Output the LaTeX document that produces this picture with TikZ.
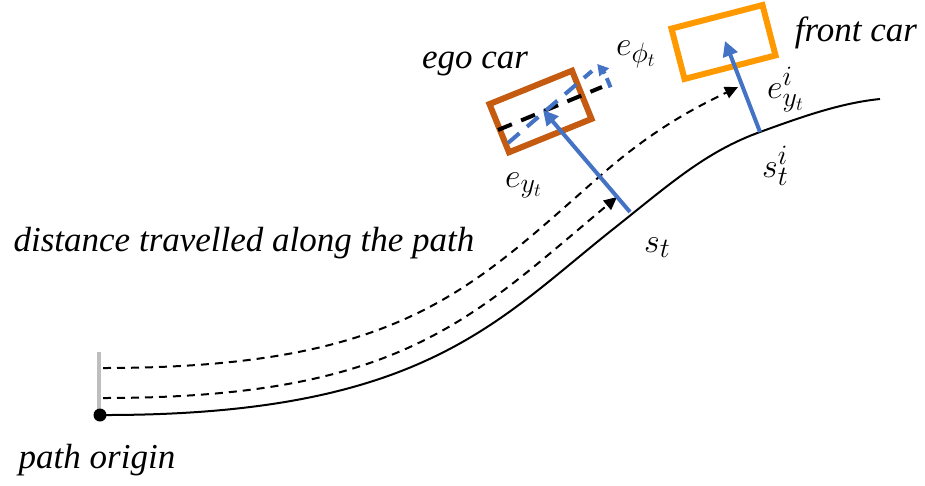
\RequirePackage{fix-cm}
\documentclass[tikz,border=0pt]{standalone}
\usepackage{fontspec}
\setmainfont{Liberation Serif}
\usetikzlibrary{arrows.meta}
\DeclareMathSizes{34}{34}{28}{19}
\definecolor{egoC}{RGB}{197,90,17}
\definecolor{frontC}{RGB}{255,153,0}
\definecolor{arrB}{RGB}{68,114,196}
\definecolor{originGray}{RGB}{190,190,190}
\tikzset{
  lbl/.style={font=\fontsize{35}{42}\selectfont\itshape, inner sep=0pt},
  mlbl/.style={font=\fontsize{34}{40}\selectfont, inner sep=0pt, anchor=base west},
  carbox/.style={draw=#1, line width=6pt, inner sep=0pt},
  pathline/.style={line width=2pt},
  travel/.style={line width=2pt, dash pattern=on 8pt off 6pt, -{Triangle[length=13pt,width=12pt]}},
  offset/.style={arrB, line width=4pt, -{Triangle[length=15pt,width=15pt]}},
  axisdash/.style={line width=4pt, dash pattern=on 15pt off 10pt},
}
\begin{document}
\begin{tikzpicture}[x=1pt,y=-1pt]
\useasboundingbox (0,0) rectangle (925,485);
% path origin
\draw[originGray, line width=4pt] (99,352) -- (99,409);
\node[circle, fill=black, inner sep=0pt, minimum size=13pt] (O) at (100,415) {};
% solid path
\coordinate (pEnd) at (880,99);
\draw[pathline] (O.center) .. controls (420,416) and (495,323) .. (612,230)
  .. controls (670,184) and (705,152) .. (760,132)
  .. controls (800,117.5) and (840,103) .. (pEnd);
% dashed travel curves
\coordinate (lowStart) at (103,398); \coordinate (lowTip) at (617,197);
\coordinate (upStart) at (103,368); \coordinate (upTip) at (738,87);
\draw[travel] (lowStart) .. controls (400,398) and (470,320) .. (lowTip);
\draw[travel] (upStart) .. controls (400,368) and (470,290) .. (600,176)
  .. controls (650,132) and (690,110) .. (upTip);
% cars
\node[carbox=egoC, rotate=22, minimum width=89pt, minimum height=52pt] (ego) at (540.5,111.5) {};
\node[carbox=frontC, rotate=14.5, minimum width=94pt, minimum height=52pt] (front) at (723.5,42) {};
% ego axes
\coordinate (bA) at (498,130); \coordinate (bB) at (602,87);
\coordinate (uA) at (508,143); \coordinate (uB) at (592,71);
\draw[axisdash, black] (bA) -- (bB);
\draw[axisdash, arrB] (uA) -- (uB);
\draw[arrB, line width=4pt, dash pattern=on 10pt off 5pt, -{Triangle[length=11pt,width=12pt]}]
  (ego.center) ++(-19:74) arc[start angle=-19, end angle=-40, radius=74];
% offsets
\coordinate (st) at (630,212); \coordinate (egotip) at (543,110);
\coordinate (sti) at (760,132); \coordinate (fronttip) at (725,41);
\draw[offset] (st) -- (egotip);
\draw[offset] (sti) -- (fronttip);
% labels
\node[lbl] (lego) at (475,63.5) {ego car};
\node[lbl] (lfront) at (856,33) {front car};
\node[lbl] (ldist) at (244,243) {distance travelled along the path};
\node[lbl] (lorig) at (97,460) {path origin};
\node[mlbl] (lphi) at (616,55) {$e_{\phi_t}$};
\node[mlbl] (ley) at (505,187) {$e_{y_t}$};
\node[mlbl] (lst) at (644,252) {$s_t$};
\node[mlbl] (lsti) at (762,177) {$s^i_t$};
\node[mlbl] (leyi) at (767,98) {$e^i_{y_t}$};
\end{tikzpicture}
\end{document}
